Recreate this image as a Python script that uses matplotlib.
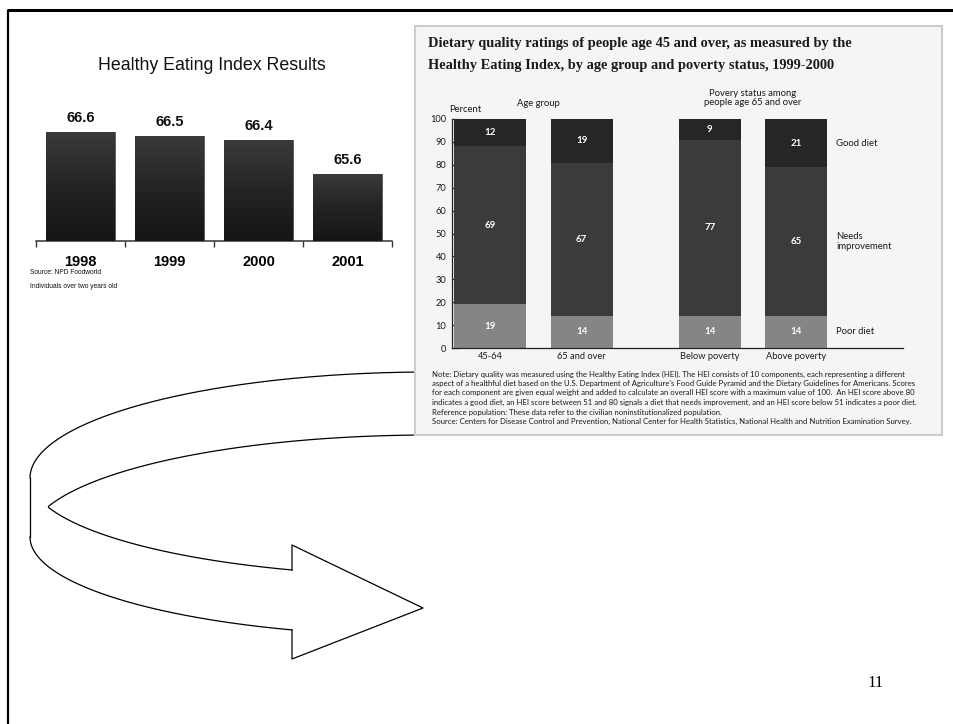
import numpy as np
import matplotlib
matplotlib.use('Agg')
import matplotlib.pyplot as plt
from matplotlib.patches import Rectangle
from matplotlib.colors import LinearSegmentedColormap

W, H = 954, 724

# ---------------- data: left chart ----------------
years = ['1998', '1999', '2000', '2001']
hei_scores = [66.6, 66.5, 66.4, 65.6]
left_title = 'Healthy Eating Index Results'
left_source = ['Source: NPD Foodworld', 'Individuals over two years old']

# ---------------- data: right chart ----------------
groups = ['45-64', '65 and over', 'Below poverty', 'Above poverty']
poor_diet = [19, 14, 14, 14]
needs_improvement = [69, 67, 77, 65]
good_diet = [12, 19, 9, 21]
segment_names = ['Poor diet', 'Needs\nimprovement', 'Good diet']
y_ticks = [0, 10, 20, 30, 40, 50, 60, 70, 80, 90, 100]
right_title = ['Dietary quality ratings of people age 45 and over, as measured by the',
               'Healthy Eating Index, by age group and poverty status, 1999-2000']
note_lines = [
    "Note: Dietary quality was measured using the Healthy Eating Index (HEI). The HEI consists of 10 components, each representing a different",
    "aspect of a healthful diet based on the U.S. Department of Agriculture's Food Guide Pyramid and the Dietary Guidelines for Americans. Scores",
    "for each component are given equal weight and added to calculate an overall HEI score with a maximum value of 100.  An HEI score above 80",
    "indicates a good diet, an HEI score between 51 and 80 signals a diet that needs improvement, and an HEI score below 51 indicates a poor diet.",
    "Reference population: These data refer to the civilian noninstitutionalized population.",
    "Source: Centers for Disease Control and Prevention, National Center for Health Statistics, National Health and Nutrition Examination Survey.",
]

fig = plt.figure(figsize=(W / 100, H / 100), dpi=100)
fig.patch.set_facecolor('white')

bg = fig.add_axes([0, 0, 1, 1])
bg.set_xlim(0, W)
bg.set_ylim(H, 0)
bg.axis('off')
bg.set_zorder(0)


def fax(x0, y0, x1, y1):
    return fig.add_axes([x0 / W, 1 - y1 / H, (x1 - x0) / W, (y1 - y0) / H])


# slide frame
bg.plot([7.5, W], [9.5, 9.5], color='black', lw=2.2, solid_capstyle='butt', zorder=5)
bg.plot([7.7, 7.7], [9.5, H], color='black', lw=1.6, solid_capstyle='butt', zorder=5)

# ---------------- curved block arrow ----------------
a = 400.0
cx = 430.0
cy_top, cy_bot = 478.0, 537.0


def arc(cy, b, x_to, upper, n=200):
    t1 = np.arccos(np.clip((x_to - cx) / a, -1, 1))
    t = np.linspace(np.pi, t1, n)
    xs = cx + a * np.cos(t)
    ys = cy - b * np.sin(t) if upper else cy + b * np.sin(t)
    return xs, ys


ax_lw = 0.9
x1, y1 = arc(cy_top, 106, 425, True)     # outer top
x2, y2 = arc(cy_bot, 99, 292, False)     # outer bottom
x3, y3 = arc(cy_bot, 102, 425, True)     # top band bottom edge
x4, y4 = arc(cy_top, 98, 292, False)     # lower band top edge
m3 = x3 >= 48
m4 = x4 >= 48
for xs, ys in [(x1, y1), (x2, y2), (x3[m3], y3[m3]), (x4[m4], y4[m4])]:
    bg.plot(xs, ys, color='black', lw=ax_lw, zorder=1)
bg.plot([30, 30], [cy_top, cy_bot], color='black', lw=ax_lw, zorder=1)
head = [(x4[-1], y4[-1]), (292, 545), (423, 608), (292, 659), (x2[-1], y2[-1])]
bg.plot([p[0] for p in head], [p[1] for p in head], color='black', lw=ax_lw, zorder=1)

# ---------------- right panel box ----------------
bg.add_patch(Rectangle((415, 26), 942 - 415, 435 - 26, facecolor='#f5f5f5',
                       edgecolor='#cccccc', lw=1.5, zorder=2))

# ---------------- left chart ----------------
axL = fax(36, 100, 392, 241)
axL.set_facecolor('none')
axL.set_zorder(1)
xL = np.arange(len(years))
base = 64.0
top = base + 141 / 42.0
wL = 0.77
bars = axL.bar(xL, hei_scores, width=wL, color='#222222', edgecolor='#555555', lw=0.6, zorder=2)
grad = np.linspace(0, 1, 256).reshape(-1, 1)
cmap = LinearSegmentedColormap.from_list('g', ['#151515', '#242424', '#3a3a3a'])
for xi, v, bar in zip(xL, hei_scores, bars):
    im = axL.imshow(grad, extent=(xi - wL / 2, xi + wL / 2, base, v), origin='lower',
                    cmap=cmap, aspect='auto', zorder=3)
    im.set_clip_path(bar)
    axL.annotate(f'{v}', (xi, v), xytext=(0, 10), textcoords='offset points',
                 ha='center', va='center', fontsize=10.5, fontweight='bold',
                 family='Liberation Sans', color='#111111')
axL.set_xlim(-0.5, len(years) - 0.5)
axL.set_ylim(base, top)
for s in ['top', 'right', 'left']:
    axL.spines[s].set_visible(False)
axL.spines['bottom'].set_color('#333333')
axL.spines['bottom'].set_linewidth(1.1)
axL.set_yticks([])
axL.set_xticks(np.arange(-0.5, len(years)), [''] * (len(years) + 1))
axL.tick_params(axis='x', which='major', direction='out', length=4.5, width=1, color='#333333')
axL.set_xticks(xL, years, minor=True)
axL.tick_params(axis='x', which='minor', length=0, pad=10)
for lab in axL.get_xticklabels(minor=True):
    lab.set_fontsize(10.5)
    lab.set_fontweight('bold')
    lab.set_family('Liberation Sans')

bg.text(212, 66, left_title, ha='center', va='center', fontsize=12.8,
        family='Liberation Sans', color='#111111', zorder=5)
for i, s in enumerate(left_source):
    bg.text(30, 273 + 13 * i, s, ha='left', va='center', fontsize=4.8,
            family='Liberation Sans', color='#111111', zorder=5)

# ---------------- right chart ----------------
rfont = 'Lato'
axR = fax(452, 119, 903, 348)
axR.set_facecolor('none')
axR.set_zorder(2)
pos = [38, 129.7, 257.7, 344]
widths = [71.4, 62, 62, 61.4]
c_poor, c_need, c_good = '#858585', '#3b3b3b', '#262626'
poor = np.array(poor_diet)
need = np.array(needs_improvement)
good = np.array(good_diet)
axR.bar(pos, poor, width=widths, color=c_poor, zorder=2)
axR.bar(pos, need, width=widths, bottom=poor, color=c_need, zorder=2)
axR.bar(pos, good, width=widths, bottom=poor + need, color=c_good, zorder=2)
for p, a1, a2, a3 in zip(pos, poor, need, good):
    for val, bottom in [(a1, 0), (a2, a1), (a3, a1 + a2)]:
        axR.text(p, bottom + val / 2, f'{val}', ha='center', va='center', color='white',
                 fontsize=7, fontweight='bold', family=rfont, zorder=4)
axR.set_xlim(0, 451)
axR.set_ylim(0, 100)
for s in ['top', 'right']:
    axR.spines[s].set_visible(False)
for s in ['left', 'bottom']:
    axR.spines[s].set_color('#222222')
    axR.spines[s].set_linewidth(0.9)
axR.set_yticks(y_ticks, [str(t) for t in y_ticks])
axR.tick_params(axis='y', direction='in', length=4.3, width=0.9, color='#222222', pad=4,
                labelsize=6.7)
axR.set_xticks(pos, groups)
axR.tick_params(axis='x', length=0, pad=3, labelsize=6.7)
for lab in axR.get_xticklabels() + axR.get_yticklabels():
    lab.set_family(rfont)
    lab.set_color('#1a1a1a')

last = len(groups) - 1
centers = [poor[last] / 2, poor[last] + need[last] / 2, poor[last] + need[last] + good[last] / 2]
for name, yc in zip(segment_names, centers):
    axR.text(384, yc, name, ha='left', va='center', fontsize=6.8, family=rfont,
             color='#1a1a1a', linespacing=1.25)

bg.text(465, 109, 'Percent', ha='center', va='center', fontsize=6.8, family=rfont,
        color='#1a1a1a', zorder=5)
bg.text(538, 103, 'Age group', ha='center', va='center', fontsize=6.8, family=rfont,
        color='#1a1a1a', zorder=5)
bg.text(753, 98, 'Povery status among\npeople age 65 and over', ha='center', va='center',
        fontsize=6.8, family=rfont, color='#1a1a1a', linespacing=1.1, zorder=5)

bg.text(428, 43, right_title[0], ha='left', va='center', fontsize=10.4, fontweight='bold',
        family='Liberation Serif', color='#1a1a1a', zorder=5)
bg.text(428, 65, right_title[1], ha='left', va='center', fontsize=10.4, fontweight='bold',
        family='Liberation Serif', color='#1a1a1a', zorder=5)

note_y = [374.3, 383.5, 392.8, 402, 412.3, 421]
for s, yy in zip(note_lines, note_y):
    bg.text(432, yy, s, ha='left', va='center', fontsize=5.6, family=rfont,
            color='#1a1a1a', zorder=5)

bg.text(876, 683, '11', ha='center', va='center', fontsize=12, family='Liberation Serif',
        color='black', zorder=5)

fig.savefig('out.png', dpi=100, facecolor='white')
